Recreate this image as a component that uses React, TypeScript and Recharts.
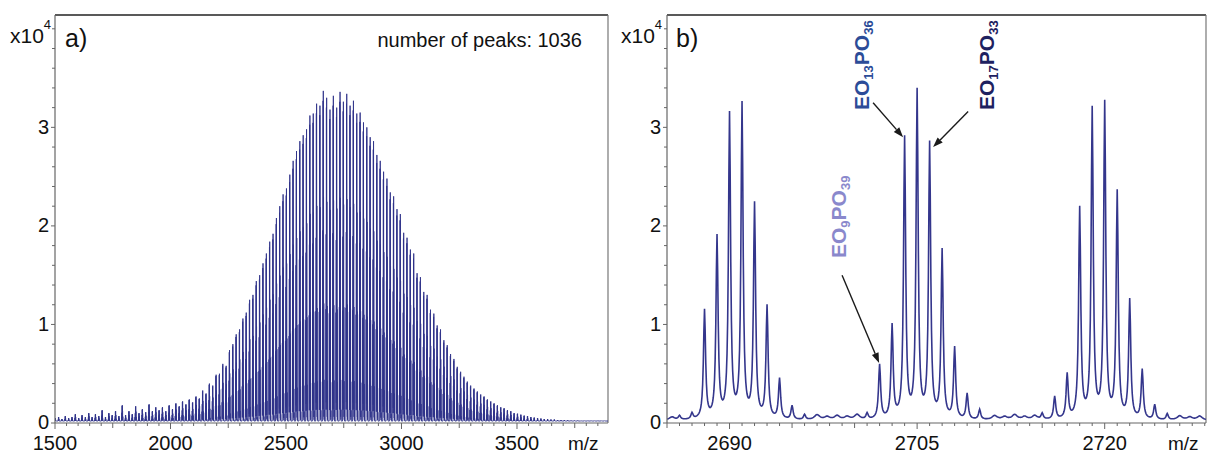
import React from "react";
import { LineChart, Line, XAxis, YAxis, ReferenceLine } from "recharts";

const FONT = '"Liberation Sans", Arial, Helvetica, sans-serif';

// ---------- Panel a: full spectrum (cluster apex m/z and apex intensity, x10^4) ----------
const A_MZ = [
  1501.5, 1516, 1530.5, 1545, 1559.5, 1574, 1588.5, 1603, 1617.5, 1632,
  1646.5, 1661, 1675.5, 1690, 1704.5, 1719, 1733.5, 1748, 1762.5, 1777,
  1791.5, 1806, 1820.5, 1835, 1849.5, 1864, 1878.5, 1893, 1907.5, 1922,
  1936.5, 1951,
  1965.5, 1980, 1994.5, 2009, 2023.5, 2038, 2052.5, 2067, 2081.5, 2096,
  2110.5, 2125, 2139.5, 2154, 2168.5, 2183, 2197.5, 2212, 2226.5, 2241,
  2255.5, 2270, 2284.5, 2299, 2313.5, 2328, 2342.5, 2357, 2371.5, 2386,
  2400.5, 2415, 2429.5, 2444, 2458.5, 2473, 2487.5, 2502, 2516.5, 2531,
  2545.5, 2560, 2574.5, 2589, 2603.5, 2618, 2632.5, 2647, 2661.5, 2676,
  2690.5, 2705, 2719.5, 2734, 2748.5, 2763, 2777.5, 2792, 2806.5, 2821,
  2835.5, 2850, 2864.5, 2879, 2893.5, 2908, 2922.5, 2937, 2951.5, 2966,
  2980.5, 2995, 3009.5, 3024, 3038.5, 3053, 3067.5, 3082, 3096.5, 3111,
  3125.5, 3140, 3154.5, 3169, 3183.5, 3198, 3212.5, 3227, 3241.5, 3256,
  3270.5, 3285, 3299.5, 3314, 3328.5, 3343, 3357.5, 3372, 3386.5, 3401,
  3415.5, 3430, 3444.5, 3459, 3473.5, 3488, 3502.5, 3517, 3531.5, 3546,
  3560.5, 3575, 3589.5, 3604,
  3618.5, 3633, 3647.5, 3662, 3676.5, 3691, 3705.5, 3720, 3734.5, 3749,
  3763.5, 3778, 3792.5, 3807, 3821.5, 3836, 3850.5, 3865, 3879.5,
];

const A_H = [
  0.05, 0.06, 0.04, 0.07, 0.05, 0.06, 0.09, 0.05, 0.08, 0.06,
  0.10, 0.06, 0.09, 0.07, 0.13, 0.06, 0.10, 0.08, 0.12, 0.07,
  0.18, 0.08, 0.12, 0.09, 0.17, 0.10, 0.14, 0.11, 0.19, 0.12,
  0.16, 0.13,
  0.16, 0.12, 0.18, 0.14, 0.20, 0.17, 0.22, 0.19, 0.24, 0.21,
  0.27, 0.25, 0.33, 0.30, 0.40, 0.38, 0.49, 0.50, 0.60, 0.58,
  0.74, 0.80, 0.90, 0.95, 1.06, 1.12, 1.25, 1.30, 1.44, 1.50,
  1.62, 1.72, 1.84, 1.92, 2.08, 2.20, 2.32, 2.38, 2.52, 2.66,
  2.76, 2.86, 2.92, 2.98, 3.12, 3.14, 3.24, 3.22, 3.37, 3.30,
  3.18, 3.32, 3.20, 3.36, 3.26, 3.34, 3.22, 3.27, 3.14, 3.15,
  3.05, 3.00, 2.90, 2.86, 2.72, 2.66, 2.55, 2.48, 2.34, 2.30,
  2.17, 2.12, 1.93, 1.88, 1.76, 1.72, 1.52, 1.48, 1.33, 1.30,
  1.15, 1.11, 0.99, 0.95, 0.84, 0.79, 0.70, 0.65, 0.57, 0.52,
  0.47, 0.42, 0.38, 0.35, 0.32, 0.29, 0.27, 0.24, 0.22, 0.20,
  0.18, 0.16, 0.15, 0.13, 0.12, 0.10, 0.095, 0.085, 0.075, 0.07,
  0.06, 0.055, 0.05, 0.045,
  0.04, 0.04, 0.035, 0.035, 0.03, 0.03, 0.03, 0.028, 0.025, 0.025,
  0.025, 0.022, 0.02, 0.02, 0.02, 0.02, 0.02, 0.02, 0.02,
];

// isotope pattern of one cluster (relative to its apex)
const ISO_OFFSETS = [-3, -2, -1, 0, 1, 2, 3, 4];
const ISO_REL = [0.35, 0.58, 0.97, 1.0, 0.68, 0.36, 0.13, 0.04];
const A_BASE = 0.02;

const A_DOMAIN: [number, number] = [1500, 3894];
const A_LABEL_TICKS = [1500, 2000, 2500, 3000, 3500];
const A_TICKS = Array.from({ length: 48 }, (_, i) => 1500 + 50 * i);

// ---------- Panel b: zoom 2685-2728 ----------
const B_PEAK_MZ = [
  2686, 2687, 2688, 2689, 2690, 2691, 2692, 2693, 2694, 2695, 2696,
  2701, 2702, 2703, 2704, 2705, 2706, 2707, 2708, 2709, 2710,
  2715, 2716, 2717, 2718, 2719, 2720, 2721, 2722, 2723, 2724, 2725,
];
const B_PEAK_H = [
  0.04, 0.06, 1.10, 1.84, 3.08, 3.18, 2.17, 1.14, 0.41, 0.14, 0.05,
  0.06, 0.55, 0.94, 2.84, 3.31, 2.78, 1.70, 0.72, 0.26, 0.10,
  0.06, 0.23, 0.45, 2.13, 3.13, 3.19, 2.29, 1.20, 0.50, 0.15, 0.06,
];
const B_NOISE_MZ = [
  2685.4, 2697.0, 2697.8, 2698.6, 2699.4, 2700.2, 2711.2, 2712.0,
  2712.8, 2713.6, 2714.4, 2726.0, 2726.8, 2727.6,
];
const B_NOISE_H = [
  0.03, 0.05, 0.03, 0.04, 0.03, 0.05, 0.04, 0.03,
  0.05, 0.03, 0.04, 0.04, 0.03, 0.04,
];
const B_BASE = 0.025;
const B_DOMAIN: [number, number] = [2685, 2728.1];
const B_LABEL_TICKS = [2690, 2705, 2720];
const B_TICKS = Array.from({ length: 44 }, (_, i) => 2685 + i);

const Y_DOMAIN: [number, number] = [0, 4.14];
const Y_LABELS = [0, 1, 2, 3];
const Y_TICKS = [0, 0.2, 0.4, 0.6, 0.8, 1, 1.2, 1.4, 1.6, 1.8, 2, 2.2, 2.4, 2.6, 2.8, 3, 3.2, 3.4, 3.6, 3.8, 4];

// ---------- build line tables ----------
function buildA() {
  const pts: { mz: number; y: number }[] = [{ mz: A_DOMAIN[0], y: A_BASE }];
  const n = Math.min(A_MZ.length, A_H.length);
  for (let i = 0; i < n; i++) {
    const m = A_MZ[i];
    const h = A_H[i];
    pts.push({ mz: m - 3.8, y: A_BASE });
    for (let j = 0; j < ISO_OFFSETS.length; j++) {
      pts.push({ mz: m + ISO_OFFSETS[j], y: Math.max(A_BASE, h * ISO_REL[j]) });
      if (j < ISO_OFFSETS.length - 1) {
        pts.push({
          mz: m + ISO_OFFSETS[j] + 0.5,
          y: A_BASE + 0.1 * h * Math.min(ISO_REL[j], ISO_REL[j + 1]),
        });
      }
    }
    pts.push({ mz: m + 4.8, y: A_BASE });
  }
  pts.push({ mz: A_DOMAIN[1], y: A_BASE });
  return pts;
}

function buildB() {
  const pts: { mz: number; y: number }[] = [];
  const w = 0.1;
  const wn = 0.25;
  const steps = Math.round((B_DOMAIN[1] - B_DOMAIN[0]) / 0.05);
  for (let k = 0; k <= steps; k++) {
    const x = Math.round((B_DOMAIN[0] + k * 0.05) * 100) / 100;
    let y = B_BASE;
    for (let i = 0; i < B_PEAK_MZ.length; i++) {
      const d = (x - B_PEAK_MZ[i]) / w;
      y += B_PEAK_H[i] / (1 + d * d);
    }
    for (let i = 0; i < B_NOISE_MZ.length; i++) {
      const d = (x - B_NOISE_MZ[i]) / wn;
      y += B_NOISE_H[i] / (1 + d * d);
    }
    pts.push({ mz: x, y });
  }
  return pts;
}

const DATA_A = buildA();
const DATA_B = buildB();

// ---------- ticks ----------
const YTick = (props: any) => {
  const { x, y, payload } = props;
  const v = payload.value;
  const labelled = Y_LABELS.some((l) => Math.abs(l - v) < 1e-6);
  return (
    <g>
      <line x1={x - (labelled ? 4 : 3)} x2={x} y1={y} y2={y} stroke="#666" strokeWidth={1} />
      {labelled && (
        <text x={x - 6} y={y - 1} dy="0.36em" textAnchor="end" fontSize={20} fontFamily={FONT} fill="#111">
          {v}
        </text>
      )}
    </g>
  );
};

const makeXTick = (labels: number[], mid: number) => (props: any) => {
  const { x, y, payload } = props;
  const v = payload.value;
  const isLabel = labels.includes(v);
  const isMid = Math.abs(v % mid) < 1e-6;
  const len = isLabel ? 6 : isMid ? 5 : 3;
  return (
    <g>
      <line x1={x} x2={x} y1={y} y2={y + len} stroke="#666" strokeWidth={1} />
      {isLabel && (
        <text x={x} y={y + 27} textAnchor="middle" fontSize={20} fontFamily={FONT} fill="#111">
          {v}
        </text>
      )}
    </g>
  );
};

const XTickA = makeXTick(A_LABEL_TICKS, 250);
const XTickB = makeXTick(B_LABEL_TICKS, 5);

const arrowShape = (props: any) => {
  const { x1, y1, x2, y2 } = props;
  if ([x1, y1, x2, y2].some((v) => typeof v !== "number" || isNaN(v))) return <g />;
  const ang = Math.atan2(y2 - y1, x2 - x1);
  const L = 10;
  const W = 3.6;
  const bx = x2 - L * Math.cos(ang);
  const by = y2 - L * Math.sin(ang);
  const px = -Math.sin(ang) * W;
  const py = Math.cos(ang) * W;
  return (
    <g>
      <line x1={x1} y1={y1} x2={bx} y2={by} stroke="#1a1a1a" strokeWidth={1.4} />
      <polygon points={`${x2},${y2} ${bx + px},${by + py} ${bx - px},${by - py}`} fill="#1a1a1a" />
    </g>
  );
};

const ARROWS = [
  { from: { x: 2701.48, y: 3.25 }, to: { x: 2703.88, y: 2.9 } },
  { from: { x: 2709.08, y: 3.16 }, to: { x: 2706.28, y: 2.8 } },
  { from: { x: 2699.0, y: 1.5 }, to: { x: 2701.96, y: 0.61 } },
];

const SubLabel = ({ x, y, a, b, color }: { x: number; y: number; a: string; b: string; color: string }) => (
  <text
    transform={`translate(${x},${y}) rotate(-90)`}
    fontSize={21}
    fontWeight="bold"
    fontFamily={FONT}
    fill={color}
  >
    EO
    <tspan fontSize={13} dy={4}>{a}</tspan>
    <tspan dy={-4}>PO</tspan>
    <tspan fontSize={13} dy={4}>{b}</tspan>
  </text>
);

export default function App() {
  return (
    <div style={{ position: "absolute", left: 0, top: 0, width: 1211, height: 454, background: "#fff" }}>
      <div style={{ position: "absolute", left: 0, top: 0 }}>
        <LineChart width={620} height={454} data={DATA_A} margin={{ top: 15, right: 12, bottom: 0, left: 0 }}>
          <XAxis
            dataKey="mz"
            type="number"
            domain={A_DOMAIN}
            allowDataOverflow
            ticks={A_TICKS}
            interval={0}
            tick={XTickA}
            tickLine={false}
            tickSize={0}
            tickMargin={0}
            height={31}
            axisLine={{ stroke: "#666", strokeWidth: 1.2 }}
          />
          <YAxis
            type="number"
            domain={Y_DOMAIN}
            allowDataOverflow
            ticks={Y_TICKS}
            interval={0}
            tick={YTick}
            tickLine={false}
            tickSize={0}
            tickMargin={0}
            width={55}
            axisLine={{ stroke: "#666", strokeWidth: 1.2 }}
          />
          <ReferenceLine y={Y_DOMAIN[1]} stroke="#222" strokeWidth={1.5} />
          <ReferenceLine x={A_DOMAIN[1]} stroke="#777" strokeWidth={1.2} />
          <Line dataKey="y" type="linear" stroke="#30338a" strokeWidth={0.9} dot={false} isAnimationActive={false} />
        </LineChart>
      </div>
      <div style={{ position: "absolute", left: 610, top: 0 }}>
        <LineChart width={600} height={454} data={DATA_B} margin={{ top: 15, right: 4, bottom: 0, left: 0 }}>
          <XAxis
            dataKey="mz"
            type="number"
            domain={B_DOMAIN}
            allowDataOverflow
            ticks={B_TICKS}
            interval={0}
            tick={XTickB}
            tickLine={false}
            tickSize={0}
            tickMargin={0}
            height={31}
            axisLine={{ stroke: "#666", strokeWidth: 1.2 }}
          />
          <YAxis
            type="number"
            domain={Y_DOMAIN}
            allowDataOverflow
            ticks={Y_TICKS}
            interval={0}
            tick={YTick}
            tickLine={false}
            tickSize={0}
            tickMargin={0}
            width={57}
            axisLine={{ stroke: "#666", strokeWidth: 1.2 }}
          />
          <ReferenceLine y={Y_DOMAIN[1]} stroke="#222" strokeWidth={1.5} />
          <ReferenceLine x={B_DOMAIN[1]} stroke="#777" strokeWidth={1.2} />
          <Line dataKey="y" type="linear" stroke="#34368c" strokeWidth={1.6} dot={false} isAnimationActive={false} />
          {ARROWS.map((a, i) => (
            <ReferenceLine key={i} segment={[a.from, a.to]} ifOverflow="visible" shape={arrowShape} />
          ))}
        </LineChart>
      </div>
      <svg
        width={1211}
        height={454}
        style={{ position: "absolute", left: 0, top: 0, pointerEvents: "none" }}
      >
        <text x={10} y={43} fontSize={21} fontFamily={FONT} fill="#111">
          x10<tspan fontSize={13} dy={-14}>4</tspan>
        </text>
        <text x={65} y={47} fontSize={25} fontFamily={FONT} fill="#111">a)</text>
        <text x={582} y={47} fontSize={20} textAnchor="end" fontFamily={FONT} fill="#111">
          number of peaks: 1036
        </text>
        <text x={568} y={450} fontSize={19} fontFamily={FONT} fill="#111">m/z</text>

        <text x={621} y={43} fontSize={21} fontFamily={FONT} fill="#111">
          x10<tspan fontSize={13} dy={-14}>4</tspan>
        </text>
        <text x={676} y={47} fontSize={25} fontFamily={FONT} fill="#111">b)</text>
        <text x={1168} y={450} fontSize={19} fontFamily={FONT} fill="#111">m/z</text>

        <SubLabel x={869} y={110} a="13" b="36" color="#2c4c98" />
        <SubLabel x={994} y={110} a="17" b="33" color="#1e2160" />
        <SubLabel x={846} y={258} a="9" b="39" color="#8a88cc" />
      </svg>
    </div>
  );
}
